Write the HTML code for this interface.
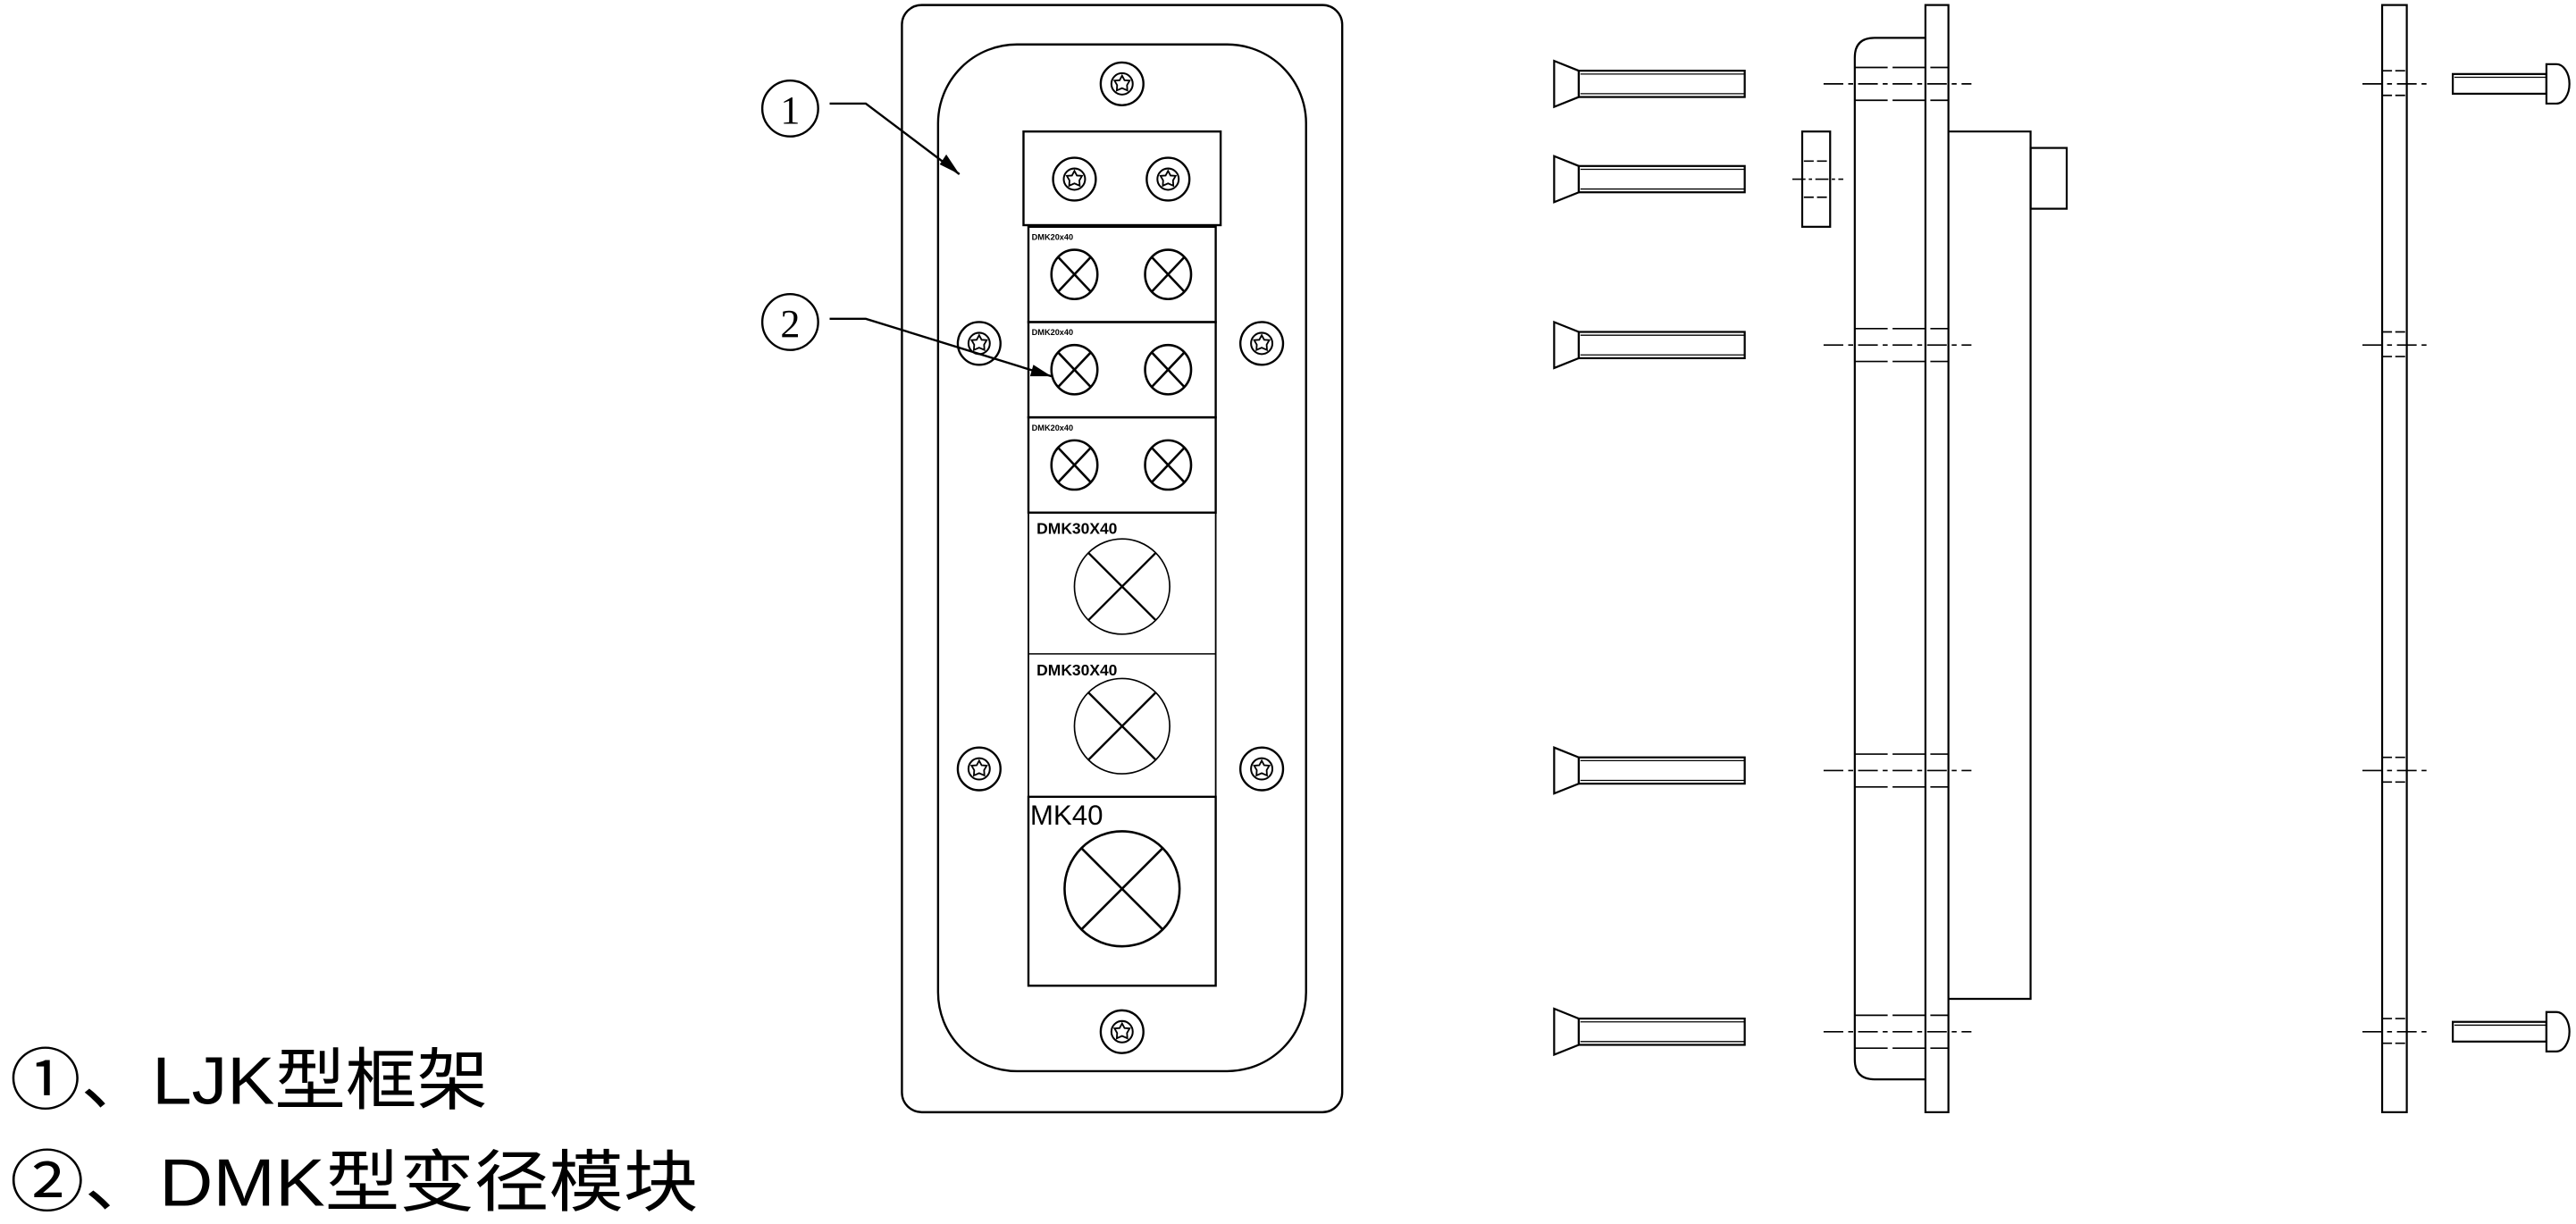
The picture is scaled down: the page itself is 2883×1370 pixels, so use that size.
<!DOCTYPE html>
<html><head><meta charset="utf-8"><style>
html,body{margin:0;padding:0;background:#fff;}
svg{display:block;}
</style></head><body>
<svg width="2883" height="1370" viewBox="0 0 1568 745" xmlns="http://www.w3.org/2000/svg">
<defs>
<g id="sc">
<circle r="13" fill="none" stroke="#000" stroke-width="1.3"/>
<circle r="6.5" fill="none" stroke="#000" stroke-width="1.1"/>
<polygon points="0,-5 1.5,-2.2 4.6,-2 3,0.8 3.2,4 0,2.6 -3.2,4 -3,0.8 -4.6,-2 -1.5,-2.2" fill="none" stroke="#000" stroke-width="1"/>
</g>
<g id="xs">
<ellipse rx="14" ry="15" fill="none" stroke="#000" stroke-width="1.4"/>
<line x1="-10" y1="-10.6" x2="10" y2="10.6" stroke="#000" stroke-width="1.4"/>
<line x1="10" y1="-10.6" x2="-10" y2="10.6" stroke="#000" stroke-width="1.4"/>
</g>
<g id="bolt">
<polygon points="0,-14 15,-8 15,8 0,14" fill="none" stroke="#000" stroke-width="1.2"/>
<rect x="15" y="-8" width="101" height="16" fill="none" stroke="#000" stroke-width="1.2"/>
<line x1="16" y1="-6" x2="116" y2="-6" stroke="#000" stroke-width="0.7"/>
<line x1="16" y1="6" x2="116" y2="6" stroke="#000" stroke-width="0.7"/>
</g>
<g id="rb">
<rect x="0" y="-6" width="57" height="12" fill="none" stroke="#000" stroke-width="1.2"/>
<line x1="1" y1="-4" x2="57" y2="-4" stroke="#000" stroke-width="0.7"/>
<path d="M57,-12 L63,-12 A8,12 0 0 1 63,12 L57,12 Z" fill="none" stroke="#000" stroke-width="1.2"/>
</g>
<g id="cl" stroke="#000" stroke-width="0.9" fill="none">
<line x1="1110" y1="0" x2="1200" y2="0" stroke-dasharray="12,3,3,3"/>
<line x1="1129" y1="-10" x2="1186" y2="-10" stroke-dasharray="20,3"/>
<line x1="1129" y1="10" x2="1186" y2="10" stroke-dasharray="20,3"/>
<line x1="1438" y1="0" x2="1477" y2="0" stroke-dasharray="12,3,3,3"/>
<line x1="1450" y1="-8" x2="1465" y2="-8" stroke-dasharray="6,2"/>
<line x1="1450" y1="7" x2="1465" y2="7" stroke-dasharray="6,2"/>
</g>
</defs>
<g fill="none" stroke="#000" stroke-width="1.3">
<rect x="549" y="3" width="268" height="674" rx="12"/>
<rect x="571" y="27" width="224" height="625" rx="48"/>
<rect x="623" y="80" width="120" height="57"/>
<rect x="626" y="138" width="114" height="58"/>
<rect x="626" y="196" width="114" height="58"/>
<rect x="626" y="254" width="114" height="58"/>
<rect x="626" y="312" width="114" height="173" stroke-width="1"/>
<line x1="626" y1="398" x2="740" y2="398" stroke-width="0.8"/>
<rect x="626" y="485" width="114" height="115"/>
</g>
<use href="#sc" x="683" y="51"/>
<use href="#sc" x="596" y="209"/>
<use href="#sc" x="768" y="209"/>
<use href="#sc" x="596" y="468"/>
<use href="#sc" x="768" y="468"/>
<use href="#sc" x="683" y="628"/>
<use href="#sc" x="654" y="109"/>
<use href="#sc" x="711" y="109"/>
<use href="#xs" x="654" y="167"/><use href="#xs" x="711" y="167"/>
<use href="#xs" x="654" y="225"/><use href="#xs" x="711" y="225"/>
<use href="#xs" x="654" y="283"/><use href="#xs" x="711" y="283"/>
<g fill="none" stroke="#000">
<circle cx="683" cy="357" r="29" stroke-width="0.9"/>
<line x1="662.5" y1="336.5" x2="703.5" y2="377.5" stroke-width="1.3"/>
<line x1="703.5" y1="336.5" x2="662.5" y2="377.5" stroke-width="1.3"/>
<circle cx="683" cy="442" r="29" stroke-width="0.9"/>
<line x1="662.5" y1="421.5" x2="703.5" y2="462.5" stroke-width="1.3"/>
<line x1="703.5" y1="421.5" x2="662.5" y2="462.5" stroke-width="1.3"/>
<circle cx="683" cy="541" r="35" stroke-width="1.4"/>
<line x1="658" y1="516" x2="708" y2="566" stroke-width="1.4"/>
<line x1="708" y1="516" x2="658" y2="566" stroke-width="1.4"/>
</g>
<g font-family="Liberation Sans, sans-serif" font-weight="bold" font-size="5">
<text x="628" y="146">DMK20x40</text>
<text x="628" y="204">DMK20x40</text>
<text x="628" y="262">DMK20x40</text>
</g>
<g font-family="Liberation Sans, sans-serif" font-weight="bold" font-size="9.5">
<text x="631" y="325">DMK30X40</text>
<text x="631" y="411">DMK30X40</text>
</g>
<text x="627" y="502" font-family="Liberation Sans, sans-serif" font-size="17">MK40</text>
<g fill="none" stroke="#000" stroke-width="1.3">
<circle cx="481" cy="66" r="17"/>
<polyline points="505,63 527,63 584,106"/>
<circle cx="481" cy="196" r="17"/>
<polyline points="505,194 527,194 640,229"/>
</g>
<polygon points="584,106 572,100 576,94" fill="#000"/>
<polygon points="640,229 627,229 629,222" fill="#000"/>
<g font-family="Liberation Serif, serif" font-size="24" text-anchor="middle">
<text x="481" y="75">1</text>
<text x="481" y="205">2</text>
</g>
<use href="#bolt" x="946" y="51"/>
<use href="#bolt" x="946" y="109"/>
<use href="#bolt" x="946" y="210"/>
<use href="#bolt" x="946" y="469"/>
<use href="#bolt" x="946" y="628"/>
<g fill="none" stroke="#000" stroke-width="1.2">
<rect x="1097" y="80" width="17" height="58"/>
<rect x="1172" y="3" width="14" height="674"/>
<path d="M1172,23 L1141,23 Q1129,23 1129,35 L1129,645 Q1129,657 1141,657 L1172,657"/>
<polyline points="1186,80 1236,80 1236,608 1186,608"/>
<rect x="1236" y="90" width="22" height="37"/>
<rect x="1450" y="3" width="15" height="674"/>
</g>
<g stroke="#000" stroke-width="0.9" fill="none">
<line x1="1091" y1="109" x2="1122" y2="109" stroke-dasharray="8,2,2,2"/>
<line x1="1098" y1="98" x2="1113" y2="98" stroke-dasharray="6,2"/>
<line x1="1098" y1="120" x2="1113" y2="120" stroke-dasharray="6,2"/>
</g>
<use href="#cl" x="0" y="51"/>
<use href="#cl" x="0" y="210"/>
<use href="#cl" x="0" y="469"/>
<use href="#cl" x="0" y="628"/>
<use href="#rb" x="1493" y="51"/>
<use href="#rb" x="1493" y="628"/>
<g font-family="Liberation Sans, 'Noto Sans CJK SC', sans-serif" font-size="41">
<text x="6" y="672" textLength="291" lengthAdjust="spacingAndGlyphs">①、LJK型框架</text>
<text x="6" y="734" textLength="419" lengthAdjust="spacingAndGlyphs">②、DMK型变径模块</text>
</g>
</svg>
</body></html>
